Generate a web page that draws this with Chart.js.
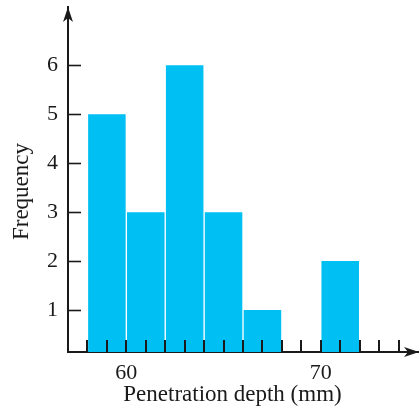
<!DOCTYPE html>
<html><head><meta charset="utf-8">
<script src="https://cdn.jsdelivr.net/npm/chart.js@4/dist/chart.umd.min.js"></script>
<style>html,body{margin:0;padding:0;background:#fff;overflow:hidden}</style>
</head><body>
<canvas id="c" width="419" height="417" style="width:419px;height:417px;display:block"></canvas>
<script>
// ---- data ----
const binCenters = [59, 61, 63, 65, 67, 69, 71];
const frequencies = [5, 3, 6, 3, 1, 0, 2];
const xTickValues = [58, 59, 60, 61, 62, 63, 64, 65, 66, 67, 68, 69, 70, 71, 72, 73, 74];
const xLabelValues = [60, 70];
const yTickValues = [1, 2, 3, 4, 5, 6];
const xTitle = 'Penetration depth (mm)';
const yTitle = 'Frequency';

const FONT = "'Liberation Serif', 'Times New Roman', serif";
const INK = '#1a1a1a';

const points = binCenters.map((x, i) => ({x: x, y: frequencies[i]})).filter(p => p.y > 0);

const decorPlugin = {
  id: 'decor',
  afterDatasetsDraw(chart) {
    const ctx = chart.ctx;
    const xs = chart.scales.x, ys = chart.scales.y;
    const ca = chart.chartArea;
    ctx.save();
    ctx.strokeStyle = INK;
    // x tick marks (inward)
    ctx.lineWidth = 2;
    xs.ticks.forEach(t => {
      const px = Math.round(xs.getPixelForValue(t.value));
      ctx.beginPath();
      ctx.moveTo(px, ca.bottom);
      ctx.lineTo(px, ca.bottom - 12);
      ctx.stroke();
    });
    // y tick marks (inward)
    ctx.lineWidth = 1.6;
    ys.ticks.forEach(t => {
      const py = Math.round(ys.getPixelForValue(t.value)) + 0.5;
      ctx.beginPath();
      ctx.moveTo(ca.left, py);
      ctx.lineTo(ca.left + 13, py);
      ctx.stroke();
    });
    // arrowheads
    ctx.fillStyle = INK;
    const ax = ca.left;
    ctx.beginPath();
    ctx.moveTo(ax, ca.top);
    ctx.lineTo(ax - 5, ca.top + 15);
    ctx.lineTo(ax, ca.top + 11);
    ctx.lineTo(ax + 5, ca.top + 15);
    ctx.closePath();
    ctx.fill();
    const ay = ca.bottom;
    ctx.beginPath();
    ctx.moveTo(ca.right + 1, ay);
    ctx.lineTo(ca.right - 14, ay - 5);
    ctx.lineTo(ca.right - 10, ay);
    ctx.lineTo(ca.right - 14, ay + 5);
    ctx.closePath();
    ctx.fill();
    // axis titles
    ctx.fillStyle = INK;
    ctx.font = "23px " + FONT;
    ctx.textAlign = 'center';
    ctx.textBaseline = 'alphabetic';
    ctx.fillText(xTitle, 232.5, 401);
    ctx.translate(27.5, 191.5);
    ctx.rotate(-Math.PI / 2);
    ctx.fillText(yTitle, 0, 0);
    ctx.restore();
  }
};

new Chart(document.getElementById('c'), {
  type: 'bar',
  data: {
    datasets: [{
      data: points,
      backgroundColor: '#00BFF2',
      borderWidth: 0,
      barPercentage: 1.93,
      categoryPercentage: 1,
      grouped: false
    }]
  },
  options: {
    responsive: false,
    animation: false,
    devicePixelRatio: 1,
    layout: {padding: {top: 7, right: 1, left: 0, bottom: 0}},
    plugins: {legend: {display: false}, tooltip: {enabled: false}},
    scales: {
      x: {
        type: 'linear',
        offset: false,
        min: 57,
        max: 75,
        afterBuildTicks: s => { s.ticks = xTickValues.map(v => ({value: v})); },
        afterFit: s => { s.height = 65; s.paddingLeft = 0; s.paddingRight = 0; },
        ticks: {
          autoSkip: false,
          maxRotation: 0,
          padding: 8,
          color: INK,
          font: {family: FONT, size: 22},
          callback: v => xLabelValues.includes(v) ? String(v) : ''
        },
        grid: {display: true, drawOnChartArea: false, drawTicks: false, offset: false},
        border: {display: true, color: INK, width: 2}
      },
      y: {
        type: 'linear',
        min: 0.143,
        max: 7.19,
        afterBuildTicks: s => { s.ticks = yTickValues.map(v => ({value: v})); },
        afterFit: s => { s.width = 68; s.paddingTop = 0; s.paddingBottom = 0; },
        ticks: {
          padding: 10,
          color: INK,
          font: {family: FONT, size: 22},
          callback: v => String(v)
        },
        grid: {display: true, drawOnChartArea: false, drawTicks: false},
        border: {display: true, color: INK, width: 2}
      }
    }
  },
  plugins: [decorPlugin]
});
</script>
</body></html>
